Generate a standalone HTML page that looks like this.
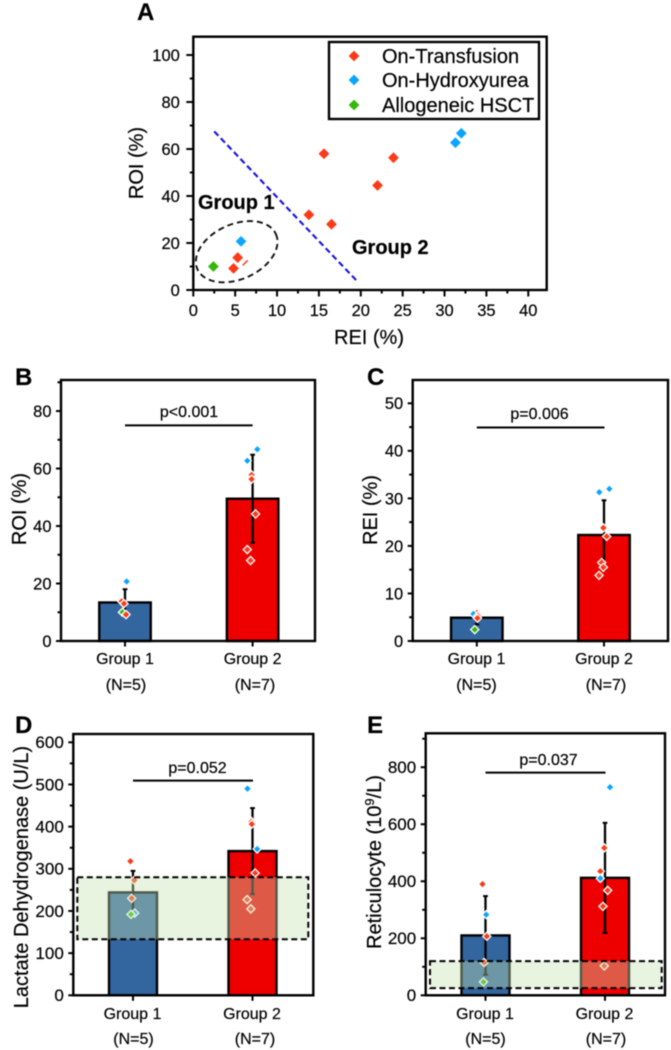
<!DOCTYPE html>
<html lang="en">
<head>
<meta charset="utf-8">
<title>Group comparison chart</title>
<style>
html,body{margin:0;padding:0;background:#fff;}
svg{display:block;filter:blur(0.45px);}
text{font-family:"Liberation Sans",sans-serif;fill:#000;stroke:#000;stroke-width:0.2px;}
.t{font-size:20px;}
.p{font-size:16px;text-anchor:middle;}
.l{font-size:24px;font-weight:bold;}
.g{font-size:20px;font-weight:bold;}
.m{text-anchor:middle;}
</style>
</head>
<body>
<svg id="fig" width="671" height="1050" viewBox="0 0 671 1050" xmlns="http://www.w3.org/2000/svg">
  <g id="panel-a"></g>
  <g id="panel-b"></g>
  <g id="panel-c"></g>
  <g id="panel-d"></g>
  <g id="panel-e"></g>

  <text class="l" x="137" y="20">A</text>
  <text class="l" x="15" y="385">B</text>
  <text class="l" x="367" y="385">C</text>
  <text class="l" x="15" y="733">D</text>
  <text class="l" x="367" y="733">E</text>

  <text class="t m" x="369" y="344">REI (%)</text>
  <text class="t m" transform="translate(143 163) rotate(-90)">ROI (%)</text>
  <text class="t m" transform="translate(26 509) rotate(-90)">ROI (%)</text>
  <text class="t m" transform="translate(377 510) rotate(-90)">REI (%)</text>
  <text class="t m" transform="translate(28 877) rotate(-90)">Lactate Dehydrogenase (U/L)</text>
  <text class="t m" transform="translate(381 862) rotate(-90)">Reticulocyte (10<tspan dy="-7" font-size="13">9</tspan><tspan dy="7">/L)</tspan></text>

  <text class="g" x="198" y="209">Group 1</text>
  <text class="g" x="352" y="254">Group 2</text>

  <g>
    <rect x="329" y="42" width="210" height="77" fill="#fff" stroke="#000" stroke-width="2.4"></rect>
    <path d="M354 50.6L359.4 56L354 61.4L348.6 56Z" fill="#fb3a17"></path>
    <text x="382" y="63" style="font-size:20px">On-Transfusion</text>
    <path d="M354 74.6L359.4 80L354 85.4L348.6 80Z" fill="#0aa5ff"></path>
    <text x="382" y="87" style="font-size:20px">On-Hydroxyurea</text>
    <path d="M354 99.6L359.4 105L354 110.4L348.6 105Z" fill="#35b80a"></path>
    <text x="382" y="112" style="font-size:20px">Allogeneic HSCT</text>
  </g>

  <g>
    <text class="p" x="125" y="664">Group 1</text>
    <text class="p" x="126" y="690">(N=5)</text>
    <text class="p" x="252.6" y="664">Group 2</text>
    <text class="p" x="255" y="690">(N=7)</text>
    <text class="p" x="189" y="417">p&lt;0.001</text>
  </g>
  <g>
    <text class="p" x="476.5" y="664">Group 1</text>
    <text class="p" x="476.5" y="690">(N=5)</text>
    <text class="p" x="604" y="664">Group 2</text>
    <text class="p" x="606" y="690">(N=7)</text>
    <text class="p" x="539.5" y="419">p=0.006</text>
  </g>
  <g>
    <text class="p" x="132.5" y="1019">Group 1</text>
    <text class="p" x="133.5" y="1044">(N=5)</text>
    <text class="p" x="252" y="1019">Group 2</text>
    <text class="p" x="255" y="1044">(N=7)</text>
    <text class="p" x="197.5" y="773">p=0.052</text>
  </g>
  <g>
    <text class="p" x="485" y="1019">Group 1</text>
    <text class="p" x="485.5" y="1044">(N=5)</text>
    <text class="p" x="604.5" y="1019">Group 2</text>
    <text class="p" x="606" y="1044">(N=7)</text>
    <text class="p" x="548.5" y="765">p=0.037</text>
  </g>
</svg>

<script>
// Panel A scatter data
const aRei = [5.3, 4.8, 13.8, 16.5, 15.6, 22, 23.9, 5.7, 31.3, 32, 2.4];
const aRoi = [13.8, 9.2, 32, 28, 58, 44.5, 56.3, 20.7, 62.7, 66.7, 10];
const aKind = ['T', 'T', 'T', 'T', 'T', 'T', 'T', 'H', 'H', 'H', 'A'];
const aXTicks = [0, 5, 10, 15, 20, 25, 30, 35, 40];
const aYTicks = [0, 20, 40, 60, 80, 100];
const aDividerX = [2.5, 19.5];
const aDividerY = [67.5, 4];

// Panel B: ROI
const bMeans = [13.4, 49.5];
const bErrors = [4.6, 15.3];
const bTicks = [0, 20, 40, 60, 80];
const bPointCat = [1.013, 0.974, 0.992, 0.98, 1.008, 2.037, 1.958, 1.992, 1.992, 2.023, 1.958, 1.984];
const bPointVal = [20.7, 13.8, 13, 10, 9.2, 66.7, 62.7, 57.8, 56.3, 44.2, 31.8, 28];
const bPointKind = ['H', 'T', 'T', 'A', 'T', 'H', 'H', 'T', 'T', 'T', 'T', 'T'];
const bBracket = [75];

// Panel C: REI
const cMeans = [4.9, 22.3];
const cErrors = [1.4, 7.3];
const cTicks = [0, 10, 20, 30, 40, 50];
const cPointCat = [1, 0.974, 1.008, 1.005, 0.984, 2.042, 1.963, 1.995, 2.021, 1.982, 1.995, 1.961];
const cPointVal = [5.9, 5.7, 5.3, 4.8, 2.4, 32, 31.3, 23.8, 22, 16.5, 15.5, 13.8];
const cPointKind = ['T', 'H', 'T', 'T', 'A', 'H', 'H', 'T', 'T', 'T', 'T', 'T'];
const cBracket = [44.9];

// Panel D: lactate dehydrogenase
const dMeans = [244, 342];
const dErrors = [51, 102];
const dTicks = [0, 100, 200, 300, 400, 500, 600];
const dPointCat = [0.978, 1.011, 0.989, 1.014, 0.983, 1.958, 1.992, 1.994, 2.039, 2.022, 1.955, 1.986];
const dPointVal = [318, 273, 230, 195, 192, 490, 412, 406, 347, 290, 227, 205];
const dPointKind = ['T', 'T', 'T', 'H', 'A', 'H', 'T', 'T', 'H', 'T', 'T', 'T'];
const dBracket = [509];
const dRefRange = [133, 280];

// Panel E: reticulocyte
const eMeans = [210, 412];
const eErrors = [138, 193];
const eTicks = [0, 200, 400, 600, 800];
const ePointCat = [0.975, 1.006, 1.011, 0.989, 0.983, 2.042, 1.994, 1.961, 1.961, 2.022, 1.983, 1.994];
const ePointVal = [390, 283, 207, 115, 47, 730, 517, 435, 410, 368, 312, 103];
const ePointKind = ['T', 'H', 'T', 'T', 'A', 'H', 'T', 'T', 'H', 'T', 'T', 'T'];
const eBracket = [781];
const eRefRange = [25, 120];

const NS = 'http://www.w3.org/2000/svg';
const KIND_COLOR = { T: '#fb3a17', H: '#0aa5ff', A: '#35b80a' };
const BAR_COLOR = ['#33659f', '#ee0000'];

function mk(parent, tag, attrs, name) {
  const el = document.createElementNS(NS, tag);
  for (const k in attrs) el.setAttribute(k, attrs[k]);
  
  
  parent.appendChild(el);
  return el;
}
function hline(p, x1, y1, x2, y2, w, name, color) {
  return mk(p, 'line', { x1: x1, y1: y1, x2: x2, y2: y2, stroke: color || '#000', 'stroke-width': w }, name);
}
function diamond(p, cx, cy, r, fill, stroke, sw, name) {
  return mk(p, 'path', {
    d: 'M' + cx + ' ' + (cy - r) + 'L' + (cx + r) + ' ' + cy + 'L' + cx + ' ' + (cy + r) + 'L' + (cx - r) + ' ' + cy + 'Z',
    fill: fill, stroke: stroke, 'stroke-width': sw
  }, name);
}
function tickText(p, x, y, label, anchor, name, size) {
  const t = mk(p, 'text', { x: x, y: y, 'text-anchor': anchor, style: 'font-size:' + size + 'px' }, name);
  t.textContent = label;
  return t;
}
function yAxis(p, f, toY, ticks, topVal, suffix, labelGap, majorLen, size) {
  const step = ticks[1] - ticks[0];
  for (let v = 0; v <= topVal; v += step / 2) {
    const major = ticks.indexOf(v) >= 0;
    hline(p, f.left - (major ? majorLen : 3.5), toY(v), f.left, toY(v), 2, (major ? 'y-tick-' : 'y-minor-tick-') + v + '-' + suffix);
    if (major) tickText(p, f.left - labelGap, toY(v) + 5.9, String(v), 'end', 'y-tick-label-' + v + '-' + suffix, size);
  }
}

function drawBarPanel(id, suffix, f, domainTop, ticks, means, errors, ptCat, ptVal, ptKind, bracket, refRange, barW, gap, size) {
  const g = document.getElementById(id);
  const H = f.bottom - f.top;
  const toY = v => f.bottom - (v / domainTop) * H;
  const toX = c => f.c1 + (c - 1) * (f.c2 - f.c1);

  means.forEach((m, i) => {
    const cx = toX(i + 1);
    mk(g, 'rect', { x: cx - barW / 2, y: toY(m), width: barW, height: f.bottom - toY(m), fill: BAR_COLOR[i], stroke: '#000', 'stroke-width': 2.4 }, 'bar-group-' + (i + 1) + '-' + suffix);
  });
  means.forEach((m, i) => {
    const cx = toX(i + 1);
    const hi = toY(m + errors[i]), lo = toY(m - errors[i]);
    hline(g, cx, hi, cx, lo, 2.3, 'error-bar-group-' + (i + 1) + '-' + suffix);
    hline(g, cx - 2.4, hi, cx + 2.4, hi, 2, 'error-cap-upper-group-' + (i + 1) + '-' + suffix);
    hline(g, cx - 2.4, lo, cx + 2.4, lo, 2, 'error-cap-lower-group-' + (i + 1) + '-' + suffix);
  });
  ptVal.forEach((v, i) => {
    diamond(g, toX(ptCat[i]), toY(v), 4.1, KIND_COLOR[ptKind[i]], '#fff', 1.3, 'point-' + (i + 1) + '-' + suffix);
  });
  if (refRange) {
    const y1 = toY(refRange[1]), y0 = toY(refRange[0]);
    mk(g, 'rect', { x: f.bandL, y: y1, width: f.bandR - f.bandL, height: y0 - y1, fill: 'rgb(197,225,178)', 'fill-opacity': 0.4, stroke: '#000', 'stroke-width': 2, 'stroke-dasharray': '6 3.5' }, 'reference-range-' + suffix);
  }
  hline(g, f.c1 + f.brA, toY(bracket[0]), f.c2 + f.brB, toY(bracket[0]), 2, 'significance-bracket-' + suffix);
  mk(g, 'rect', { x: f.left, y: f.top, width: f.right - f.left, height: H, fill: 'none', stroke: '#000', 'stroke-width': 2.4 }, 'plot-frame-' + suffix);
  yAxis(g, f, toY, ticks, domainTop, suffix, gap, 5, size);
  hline(g, f.c1, f.bottom, f.c1, f.bottom + 5.5, 2, 'x-tick-group-1-' + suffix);
  hline(g, f.c2, f.bottom, f.c2, f.bottom + 5.5, 2, 'x-tick-group-2-' + suffix);
}

function drawPanelA() {
  const g = document.getElementById('panel-a');
  const f = { left: 193.3, right: 546.7, top: 36.7, bottom: 290 };
  const xDomain = 42.2, yDomain = 107.8;
  const toX = v => f.left + (v / xDomain) * (f.right - f.left);
  const toY = v => f.bottom - (v / yDomain) * (f.bottom - f.top);

  mk(g, 'rect', { x: f.left, y: f.top, width: f.right - f.left, height: f.bottom - f.top, fill: '#fff', stroke: '#000', 'stroke-width': 2.4 }, 'plot-frame-a');
  yAxis(g, f, toY, aYTicks, yDomain, 'a', 13.5, 7, 16.5);
  const xStep = aXTicks[1] - aXTicks[0];
  for (let v = 0; v <= xDomain; v += xStep / 2) {
    const major = aXTicks.indexOf(v) >= 0;
    hline(g, toX(v), f.bottom, toX(v), f.bottom + (major ? 6.5 : 3.5), 2, (major ? 'x-tick-' : 'x-minor-tick-') + v + '-a');
    if (major) tickText(g, toX(v), 316, String(v), 'middle', 'x-tick-label-' + v + '-a', 16.5);
  }
  mk(g, 'line', { x1: toX(aDividerX[0]), y1: toY(aDividerY[0]), x2: toX(aDividerX[1]), y2: toY(aDividerY[1]), stroke: '#1414e0', 'stroke-width': 2.1, 'stroke-dasharray': '6 3.5' }, 'group-divider-line');
  const ecx = toX(5.18), ecy = toY(16.3);
  mk(g, 'ellipse', { cx: ecx, cy: ecy, rx: 43, ry: 27.5, transform: 'rotate(-24 ' + ecx + ' ' + ecy + ')', fill: 'none', stroke: '#111', 'stroke-width': 1.9, 'stroke-dasharray': '6 4' }, 'group-1-ellipse');
  hline(g, toX(5.9), toY(10.5), toX(6.5), toY(12.6), 1.5, 'hidden-point-sliver', '#fb3a17');
  aRei.forEach((v, i) => {
    diamond(g, toX(v), toY(aRoi[i]), 5.4, KIND_COLOR[aKind[i]], 'none', 0, 'scatter-point-' + (i + 1));
  });
}

drawPanelA();
drawBarPanel('panel-b', 'b', { left: 61, right: 315, top: 380, bottom: 641, c1: 125, c2: 252.6, brA: 0, brB: 0 }, 90.8, bTicks, bMeans, bErrors, bPointCat, bPointVal, bPointKind, bBracket, null, 51.5, 9.5, 16.5);
drawBarPanel('panel-c', 'c', { left: 412.7, right: 668, top: 380, bottom: 641, c1: 476.8, c2: 604, brA: 0, brB: 0.5 }, 54.9, cTicks, cMeans, cErrors, cPointCat, cPointVal, cPointKind, cBracket, null, 51.5, 9.5, 16.5);
drawBarPanel('panel-d', 'd', { left: 73.3, right: 313.3, top: 734, bottom: 995.3, c1: 133, c2: 252.5, brA: 0, brB: 0.5, bandL: 77.3, bandR: 308.3 }, 619.7, dTicks, dMeans, dErrors, dPointCat, dPointVal, dPointKind, dBracket, dRefRange, 48, 9.5, 17);
drawBarPanel('panel-e', 'e', { left: 425.7, right: 665, top: 733.3, bottom: 995.3, c1: 485.5, c2: 605, brA: 0, brB: 0.5, bandL: 430, bandR: 661.7 }, 919, eTicks, eMeans, eErrors, ePointCat, ePointVal, ePointKind, eBracket, eRefRange, 48, 9.5, 17);
</script>
</body>
</html>
